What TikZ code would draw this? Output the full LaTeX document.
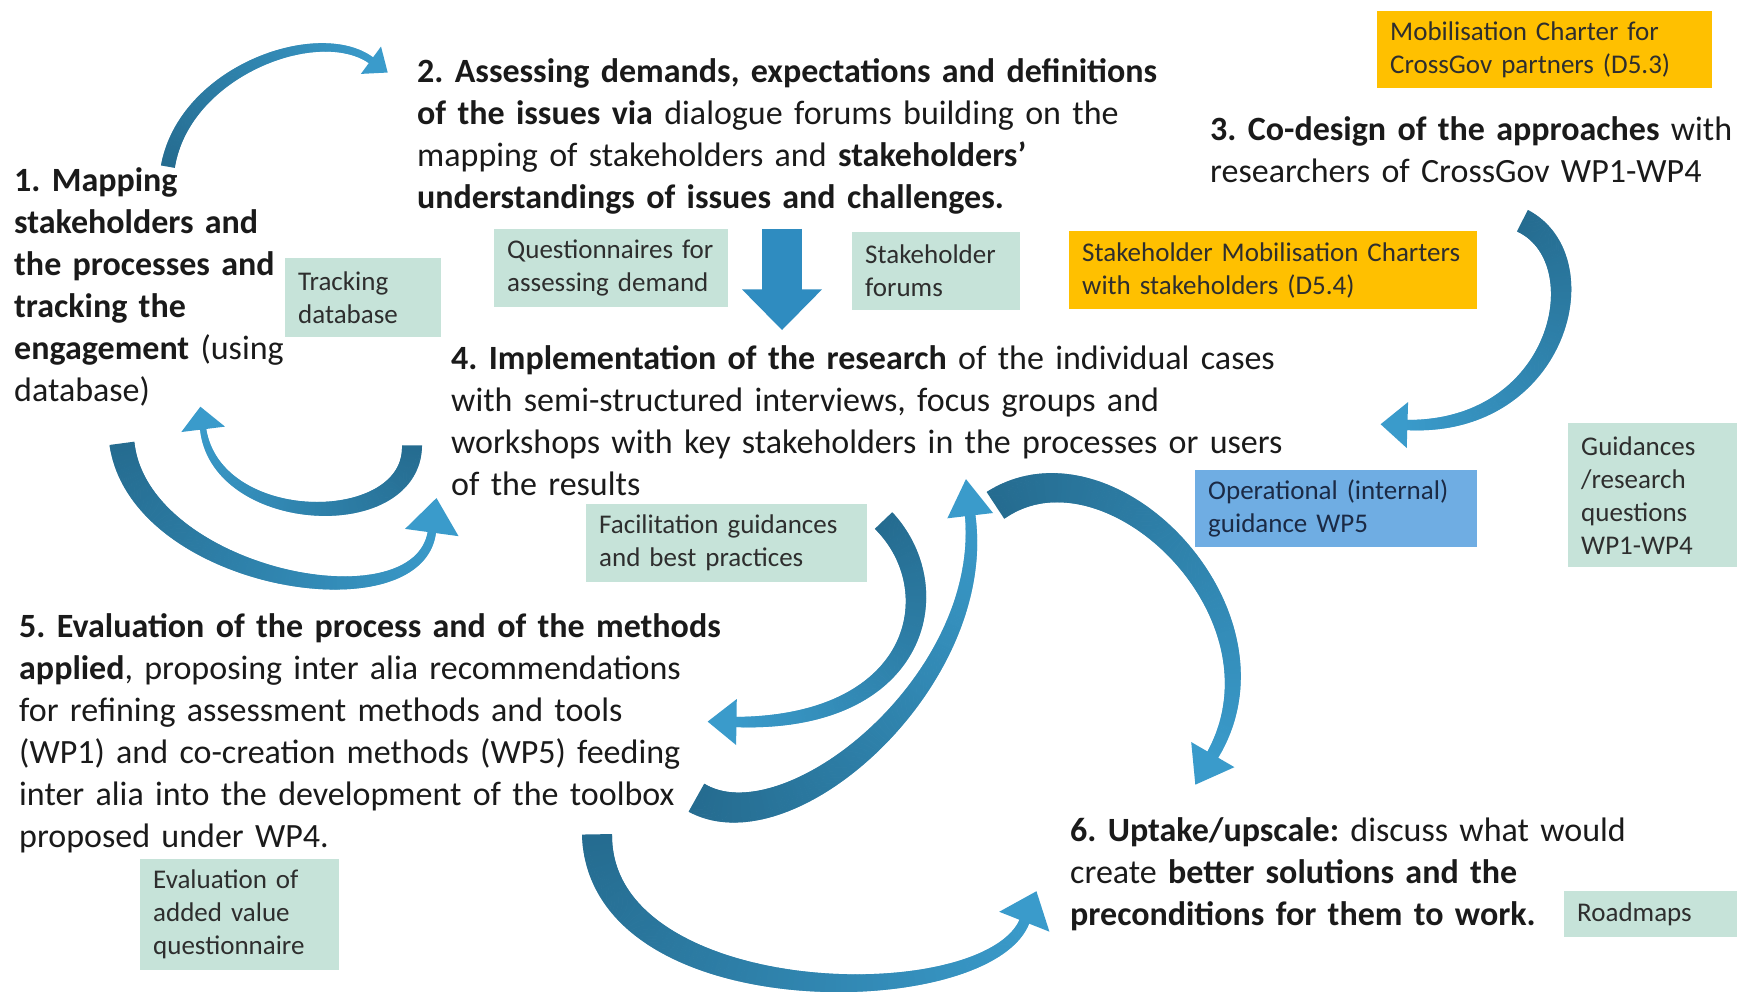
\documentclass[tikz,border=0pt]{standalone}
\usepackage{fontspec}
\setmainfont{Carlito}
\frenchspacing
\usetikzlibrary{decorations.markings}

\definecolor{boxteal}{HTML}{C6E3D9}
\definecolor{boxorange}{HTML}{FFC000}
\definecolor{boxblue}{HTML}{6FADE3}
\definecolor{arrowdark}{HTML}{256C90}
\definecolor{arrowlight}{HTML}{3A9BCB}
\definecolor{arrowflat}{HTML}{2F8CC0}
\definecolor{inktext}{HTML}{1A1A1A}
\definecolor{boxtext}{HTML}{2E2E2E}
\definecolor{navytext}{HTML}{1B2A45}

\tikzset{
  maintext/.style={anchor=base west, inner sep=0pt, text width=900pt, align=left,
    text=inktext, font=\fontsize{34pt}{42pt}\selectfont},
  % note box: text width, total height, fill colour
  note/.style n args={3}{anchor=north west, inner xsep=13pt, inner ysep=0pt,
    text width=#1pt, minimum height=#2pt, align=left, fill=#3,
    text=boxtext, font=\fontsize{27pt}{33pt}\selectfont},
  % tapered block arrow: tail width / end width / head width / head length
  bentarrow/.style n args={4}{
    postaction={decorate, decoration={markings,
      mark=between positions 0 and 1 step 0.8pt with {
        \pgfmathsetmacro\arrfrac{\pgfkeysvalueof{/pgf/decoration/mark info/distance from start}/\pgfdecoratedpathlength}
        \pgfmathsetmacro\arrhalf{(#1+(#2-#1)*\arrfrac)/2}
        \pgfmathtruncatemacro\arrpct{100*\arrfrac}
        \fill[arrowlight!\arrpct!arrowdark] (-0.7pt,-\arrhalf pt) rectangle (0.7pt,\arrhalf pt);
      }}},
    postaction={decorate, decoration={markings,
      mark=at position 0.998 with {
        \fill[arrowlight] (-0.8pt,#3pt/2) -- (#4pt,0pt) -- (-0.8pt,-#3pt/2) -- cycle;
      }}}
  },
  flatarrow/.style n args={3}{
    decoration={markings,
      mark=at position 1 with {
        \fill[arrowflat] (-0.6pt,#2pt/2) -- (#3pt,0pt) -- (-0.6pt,-#2pt/2) -- cycle;
      }
    },
    draw=arrowflat, line width=#1pt, postaction={decorate}
  }
}

\begin{document}
\begin{tikzpicture}[x=1pt,y=-1pt]
\useasboundingbox (0,0) rectangle (1737,992);

% ---------- note boxes ----------
\node[note={130}{79}{boxteal}] (trk) at (285,258) {Tracking\\database};
\node[note={208}{78}{boxteal}] (qst) at (494,229) {Questionnaires for\\assessing demand};
\node[note={142}{78}{boxteal}] (frm) at (852,232) {Stakeholder\\forums};
\node[note={382}{78}{boxorange}] (smc) at (1069,231) {Stakeholder Mobilisation Charters\\with stakeholders (D5.4)};
\node[note={309}{77}{boxorange}] (mcp) at (1377,11) {Mobilisation Charter for\\CrossGov partners (D5.3)};
\node[note={256}{77}{boxblue}, text=navytext] (opg) at (1195,470) {Operational (internal)\\guidance WP5};
\node[note={145}{144}{boxteal}] (gdn) at (1568,423) {Guidances\\/research\\questions\\WP1-WP4};
\node[note={255}{78}{boxteal}] (fac) at (586,504) {Facilitation guidances\\and best practices};
\node[note={173}{111}{boxteal}] (eva) at (140,859) {Evaluation of\\added value\\questionnaire};
\node[note={147}{46}{boxteal}] (rdm) at (1564,891) {Roadmaps};

% ---------- step texts ----------
\node[maintext] (s1) at (14,192) {\textbf{1. Mapping}\\ \textbf{stakeholders and}\\ \textbf{the processes and}\\ \textbf{tracking the}\\ \textbf{engagement} (using\\ database)};
\node[maintext] (s2) at (417,83) {\textbf{2. Assessing demands, expectations and definitions}\\ \textbf{of the issues via} dialogue forums building on the\\ mapping of stakeholders and \textbf{stakeholders’}\\ \textbf{understandings of issues and challenges.}};
\node[maintext] (s3) at (1210,141) {\textbf{3. Co-design of the approaches} with\\ researchers of CrossGov WP1-WP4};
\node[maintext] (s4) at (451,369) {\textbf{4. Implementation of the research} of the individual cases\\ with semi-structured interviews, focus groups and\\ workshops with key stakeholders in the processes or users\\ of the results};
\node[maintext] (s5) at (19,637) {\textbf{5. Evaluation of the process and of the methods}\\ \textbf{applied}, proposing inter alia recommendations\\ for refining assessment methods and tools\\ (WP1) and co-creation methods (WP5) feeding\\ inter alia into the development of the toolbox\\ proposed under WP4.};
\node[maintext] (s6) at (1070,841) {\textbf{6. Uptake/upscale:} discuss what would\\ create \textbf{better solutions and the}\\ \textbf{preconditions for them to work.}};

% ---------- arrow end points ----------
\coordinate (a12s) at (168,166);  \coordinate (a12e) at (372,61);
\coordinate (a24s) at (782,229);  \coordinate (a24e) at (782,290);
\coordinate (a34s) at (1523,221); \coordinate (a34e) at (1406,425);
\coordinate (a41s) at (412,446);  \coordinate (a41e) at (203,428);
\coordinate (a14s) at (122,444);  \coordinate (a14e) at (432,531);
\coordinate (a45s) at (884,521);  \coordinate (a45e) at (735,722);
\coordinate (a54s) at (697,798);  \coordinate (a54e) at (970,514);
\coordinate (a46s) at (996,505);  \coordinate (a46e) at (1212,756);
\coordinate (a56s) at (597,835);  \coordinate (a56e) at (1025,920);

% ---------- arrows ----------
\path[bentarrow={14}{7}{34}{20}] (a12s) .. controls (185,70) and (320,22) .. (a12e);
\path[flatarrow={40}{80}{40}] (a24s) -- (a24e);
\path[bentarrow={24}{10}{46}{26}] (a34s) .. controls (1600,260) and (1560,430) .. (a34e);
\path[bentarrow={20}{6}{44}{22}] (a41s) .. controls (412,535) and (215,530) .. (a41e);
\path[bentarrow={25}{8}{54}{34}] (a14s) .. controls (140,580) and (420,630) .. (a14e);
\path[bentarrow={24}{10}{46}{28}] (a45s) .. controls (950,590) and (920,725) .. (a45e);
\path[bentarrow={32}{10}{46}{36}] (a54s) .. controls (790,850) and (990,680) .. (a54e);
\path[bentarrow={32}{12}{50}{34}] (a46s) .. controls (1110,430) and (1295,615) .. (a46e);
\path[bentarrow={30}{10}{54}{32}] (a56s) .. controls (600,1015) and (990,1015) .. (a56e);

\end{tikzpicture}
\end{document}
